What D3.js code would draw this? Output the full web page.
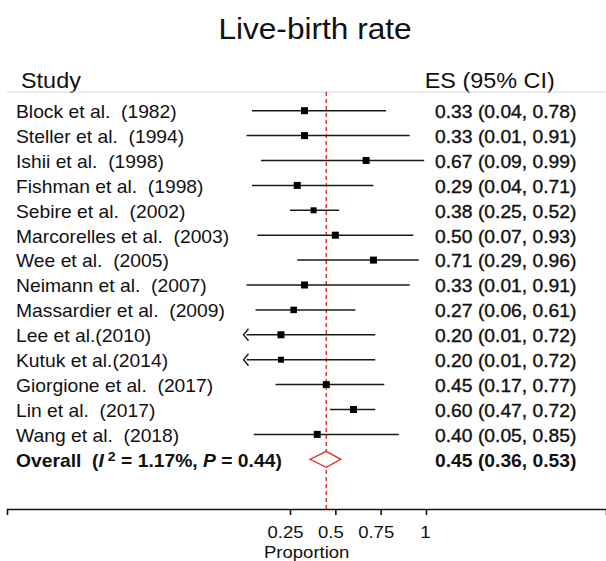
<!DOCTYPE html>
<html>
<head>
<meta charset="utf-8">
<script src="https://cdnjs.cloudflare.com/ajax/libs/d3/7.8.5/d3.min.js"></script>
<style>
  body { margin: 0; background: #fff; }
  svg text { font-family: "Liberation Sans", Arial, Helvetica, sans-serif; fill: #111; }
</style>
</head>
<body>
<svg id="forest" width="606" height="561"></svg>
<script>
// the data
var studies = ["Block et al.  (1982)", "Steller et al.  (1994)", "Ishii et al.  (1998)",
  "Fishman et al.  (1998)", "Sebire et al.  (2002)", "Marcorelles et al.  (2003)",
  "Wee et al.  (2005)", "Neimann et al.  (2007)", "Massardier et al.  (2009)",
  "Lee et al.(2010)", "Kutuk et al.(2014)", "Giorgione et al.  (2017)",
  "Lin et al.  (2017)", "Wang et al.  (2018)"];
var es = [0.33, 0.33, 0.67, 0.29, 0.38, 0.50, 0.71, 0.33, 0.27, 0.20, 0.20, 0.45, 0.60, 0.40];
var lower = [0.04, 0.01, 0.09, 0.04, 0.25, 0.07, 0.29, 0.01, 0.06, 0.01, 0.01, 0.17, 0.47, 0.05];
var upper = [0.78, 0.91, 0.99, 0.71, 0.52, 0.93, 0.96, 0.91, 0.61, 0.72, 0.72, 0.77, 0.72, 0.85];
// rows where the CI is cut off at the left (drawn with an arrow)
var arrowLeft = [false, false, false, false, false, false, false, false, false, true, true, false, false, false];
// square size ~ study weight
var weight = [7, 7, 7, 7, 6, 7, 7, 7, 6.5, 7, 6, 7, 7, 7];

var overall = {es: 0.45, lower: 0.36, upper: 0.53, i2: "1.17%", p: "0.44"};
var tickValues = [0.25, 0.5, 0.75, 1];
var tickLabels = ["0.25", "0.5", "0.75", "1"];

var svg = d3.select("#forest");
var stretch = " scale(1.09,1)";   // the picture's text is a bit wide
var fmt = d3.format(".2f");

// proportion scale and row scale
var x = d3.scaleLinear().domain([0, 1]).range([244.7, 426]);
var y = d3.scaleLinear().domain([0, 14]).range([110.7, 459.3]);
var axisY = 509;

function addText(px, py, size, str) {
  return svg.append("text")
    .attr("transform", "translate(" + px + "," + py + ")" + stretch)
    .style("font-size", size + "px")
    .text(str);
}

// title and headers
addText(315, 39, 29, "Live-birth rate").attr("text-anchor", "middle");
addText(21, 88, 21.5, "Study");
addText(424.7, 88, 21.5, "ES (95% CI)");

// light line under the headers
svg.append("line")
  .attr("x1", 7).attr("x2", 606)
  .attr("y1", 92).attr("y2", 92)
  .attr("stroke", "#d6d6d6").attr("stroke-width", 1.2);

// pooled estimate dashed line
svg.append("line")
  .attr("x1", x(overall.es)).attr("x2", x(overall.es))
  .attr("y1", 92).attr("y2", axisY)
  .attr("stroke", "#e0312f").attr("stroke-width", 1.4)
  .attr("stroke-dasharray", "4,3");

var rows = studies.map(function(s, i) {
  return {name: s, es: es[i], lo: lower[i], hi: upper[i], arrow: arrowLeft[i], w: weight[i], i: i};
});

// CI lines
svg.selectAll(".ci")
  .data(rows)
  .enter().append("line")
    .attr("class", "ci")
    .attr("x1", function(d) { return x(d.lo); })
    .attr("x2", function(d) { return x(d.hi); })
    .attr("y1", function(d) { return y(d.i); })
    .attr("y2", function(d) { return y(d.i); })
    .attr("stroke", "#1a1a1a").attr("stroke-width", 1.5);

// arrows for the cut off ones
svg.selectAll(".arrow")
  .data(rows.filter(function(d) { return d.arrow; }))
  .enter().append("path")
    .attr("class", "arrow")
    .attr("d", function(d) {
      var ax = x(d.lo) - 3, ay = y(d.i);
      return "M" + (ax + 5) + "," + (ay - 6) + " L" + ax + "," + ay + " L" + (ax + 5) + "," + (ay + 6);
    })
    .attr("fill", "none")
    .attr("stroke", "#1a1a1a").attr("stroke-width", 1.4);

// point estimate squares
svg.selectAll(".box")
  .data(rows)
  .enter().append("rect")
    .attr("class", "box")
    .attr("x", function(d) { return x(d.es) - d.w / 2; })
    .attr("y", function(d) { return y(d.i) - d.w / 2; })
    .attr("width", function(d) { return d.w; })
    .attr("height", function(d) { return d.w; })
    .attr("fill", "#000");

// study labels
svg.selectAll(".label")
  .data(rows)
  .enter().append("text")
    .attr("class", "label")
    .attr("transform", function(d) { return "translate(16," + (y(d.i) + 7.3) + ")" + stretch; })
    .style("font-size", "17.7px")
    .style("white-space", "pre")
    .text(function(d) { return d.name; });

// ES (CI) column, a little heavier than the labels
svg.selectAll(".estext")
  .data(rows)
  .enter().append("text")
    .attr("class", "estext")
    .attr("transform", function(d) { return "translate(435," + (y(d.i) + 7.3) + ")" + stretch; })
    .style("font-size", "17.7px")
    .style("stroke", "#111")
    .style("stroke-width", "0.35px")
    .text(function(d) { return fmt(d.es) + " (" + fmt(d.lo) + ", " + fmt(d.hi) + ")"; });

// overall row
var oy = y(14);
var ot = svg.append("text")
  .attr("transform", "translate(16," + (oy + 7.3) + ")" + stretch)
  .style("font-size", "17.7px")
  .style("font-weight", "bold")
  .style("white-space", "pre");
ot.append("tspan").text("Overall  (");
ot.append("tspan").style("font-style", "italic").text("I");
ot.append("tspan").attr("dy", -6).style("font-size", "13px").text(" 2");
ot.append("tspan").attr("dy", 6).text(" = " + overall.i2 + ", ");
ot.append("tspan").style("font-style", "italic").text("P");
ot.append("tspan").text(" = " + overall.p + ")");

addText(435, oy + 7.3, 17.7, fmt(overall.es) + " (" + fmt(overall.lower) + ", " + fmt(overall.upper) + ")")
  .style("font-weight", "bold");

svg.append("path")
  .attr("d", "M" + x(overall.lower) + "," + oy +
    " L" + x(overall.es) + "," + (oy - 8) +
    " L" + x(overall.upper) + "," + oy +
    " L" + x(overall.es) + "," + (oy + 8) + " Z")
  .attr("fill", "#fff")
  .attr("stroke", "#e0312f").attr("stroke-width", 1.4);

// x axis, line runs the whole width
var xAxisScale = x.copy().domain([x.invert(7), x.invert(606)]).range([7, 606]);
var gx = svg.append("g")
  .attr("transform", "translate(0," + axisY + ")")
  .call(d3.axisBottom(xAxisScale)
    .tickValues(tickValues)
    .tickSizeOuter(0)
    .tickSize(6)
    .tickFormat(function(d, i) { return tickLabels[i]; }));
gx.select(".domain").attr("stroke", "#111").attr("stroke-width", 1.6);
gx.selectAll(".tick line").attr("stroke", "#111").attr("stroke-width", 1.6);
gx.selectAll(".tick text")
  .attr("y", 0)
  .attr("dy", 0)
  .attr("transform", function(d) { return "translate(" + (d < 1 ? -5 : -1) + ",29)" + stretch; })
  .style("font-size", "17px")
  .style("font-family", "'Liberation Sans', Arial, sans-serif")
  .attr("fill", "#111");

addText(306.7, 558, 17, "Proportion").attr("text-anchor", "middle");
</script>
</body>
</html>
